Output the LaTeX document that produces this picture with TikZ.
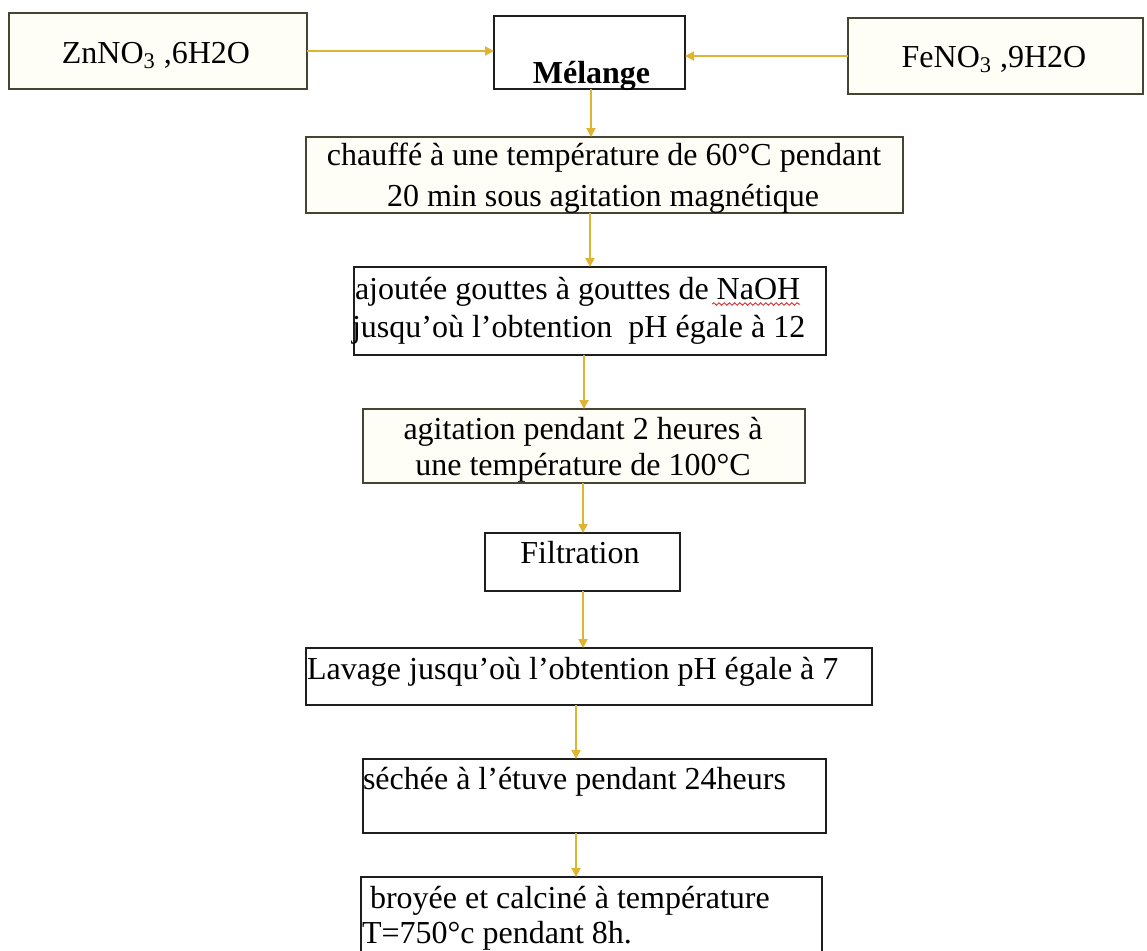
\documentclass[tikz,border=0pt]{standalone}
\usepackage{fontspec}
\setmainfont{Liberation Serif}
\usetikzlibrary{arrows.meta,decorations.pathmorphing}
\definecolor{arrowc}{RGB}{222,180,48}
\definecolor{olivebd}{RGB}{70,68,50}
\definecolor{darkbd}{RGB}{30,30,30}
\definecolor{creamfill}{RGB}{255,254,246}
\definecolor{spellred}{RGB}{220,60,60}
\begin{document}
\begin{tikzpicture}[x=0.5pt,y=-0.5pt,
  box/.style={draw=darkbd, line width=1pt, fill=white, inner sep=0pt, outer sep=0pt},
  softbox/.style={box, draw=olivebd, fill=creamfill},
  txt/.style={inner sep=0pt, outer sep=0pt, font=\fontsize{16}{19}\selectfont},
  flow/.style={draw=arrowc, line width=0.9pt, -{Triangle[length=4.5pt,width=4.5pt]}},
]
\useasboundingbox (0,0) rectangle (1147,950);
\clip (0,0) rectangle (1147,950);
\fill[white] (0,0) rectangle (1147,950);

% boxes
\node[softbox, minimum width=149pt, minimum height=38pt] (zn) at (158,51) {};
\node[box, minimum width=95.5pt, minimum height=36.5pt] (mel) at (589.5,52.5) {};
\node[softbox, minimum width=147.5pt, minimum height=38pt] (fe) at (995.5,56) {};
\node[softbox, minimum width=298.5pt, minimum height=38pt] (b2) at (604.5,175) {};
\node[box, minimum width=236pt, minimum height=44pt] (b3) at (590,311) {};
\node[softbox, minimum width=221pt, minimum height=37pt] (b4) at (584,446) {};
\node[box, minimum width=97.5pt, minimum height=29pt] (filt) at (582.5,562) {};
\node[box, minimum width=283pt, minimum height=28.5pt] (lav) at (589,676.5) {};
\node[box, minimum width=231.5pt, minimum height=37pt] (sec) at (594.5,796) {};
\node[box, minimum width=230.5pt, minimum height=39pt] (bro) at (591.5,916) {};

% texts
\node[txt, anchor=base] (zn-t) at (156,63) {ZnNO\textsubscript{3} ,6H2O};
\node[txt, anchor=base, font=\fontsize{16}{19}\selectfont\bfseries] (mel-t) at (591.5,83) {Mélange};
\node[txt, anchor=base] (fe-t) at (994,67) {FeNO\textsubscript{3} ,9H2O};
\node[txt, anchor=base] (b2-t1) at (604,165) {chauffé à une température de 60°C pendant};
\node[txt, anchor=base] (b2-t2) at (603,206) {20 min sous agitation magnétique};
\node[txt, anchor=base west] (b3-t1) at (355,299) {ajoutée gouttes à gouttes de NaOH};
\node[txt, anchor=base west] (b3-t2) at (352,337) {jusqu’où l’obtention\ \ pH égale à 12};
\node[txt, anchor=base] (b4-t1) at (583,439) {agitation pendant 2 heures à};
\node[txt, anchor=base] (b4-t2) at (583,475) {une température de 100°C};
\node[txt, anchor=base] (filt-t) at (580,563) {Filtration};
\node[txt, anchor=base west] (lav-t) at (307,679) {Lavage jusqu’où l’obtention pH égale à 7};
\node[txt, anchor=base west] (sec-t) at (363,789) {séchée à l’étuve pendant 24heurs};
\node[txt, anchor=base west] (bro-t1) at (370,908) {broyée et calciné à température};
\node[txt, anchor=base west] (bro-t2) at (362,943) {T=750°c pendant 8h.};

% spell-check wavy underline under NaOH
\draw[spellred, line width=0.5pt, decorate, decoration={snake,amplitude=0.6pt,segment length=2.6pt}]
  ([shift={(-44pt,-2.5pt)}]b3-t1.base east) -- ([yshift=-2.5pt]b3-t1.base east);

% connectors
\draw[flow] (zn.east) -- (zn.east -| mel.west);
\draw[flow] (fe.west) -- (fe.west -| mel.east);
\draw[flow] ([xshift=0.75pt]mel.south) -- ([xshift=0.75pt]mel.south |- b2.north);
\draw[flow] (b3.north |- b2.south) -- (b3.north);
\draw[flow] (b4.north |- b3.south) -- (b4.north);
\draw[flow] ([xshift=0.25pt]filt.north |- b4.south) -- ([xshift=0.25pt]filt.north);
\draw[flow] ([xshift=0.25pt]filt.south) -- ([xshift=0.25pt]filt.south |- lav.north);
\draw[flow] ([xshift=-6.5pt]lav.south) -- ([xshift=-6.5pt]lav.south |- sec.north);
\draw[flow] ([xshift=-9.25pt]sec.south) -- ([xshift=-9.25pt]sec.south |- bro.north);
\end{tikzpicture}
\end{document}
